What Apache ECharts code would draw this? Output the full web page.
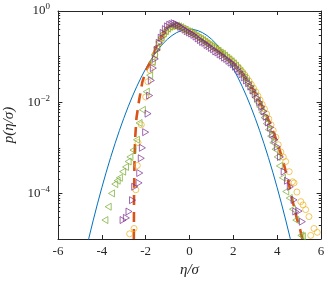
<!DOCTYPE html>
<html><head><meta charset="utf-8">
<script src="https://cdn.jsdelivr.net/npm/echarts@6/dist/echarts.min.js"></script>
<style>html,body{margin:0;padding:0;background:#fff}#c{width:328px;height:286px}</style>
</head><body><div id="c"></div>
<script>
// Gaussian reference curve (blue)
const gaussX = [-4.8,-4.6,-4.4,-4.2,-4.0,-3.8,-3.6,-3.4,-3.2,-3.0,-2.8,-2.6,-2.4,-2.2,-2.0,-1.8,-1.6,-1.4,-1.2,-1.0,-0.8,-0.6,-0.4,-0.2,0,0.2,0.4,0.6,0.8,1.0,1.2,1.4,1.6,1.8,2.0,2.2,2.4,2.6,2.8,3.0,3.2,3.4,3.6,3.8,4.0,4.2,4.4,4.6,4.8];
const gaussY = [3.96e-6,1.01e-5,2.49e-5,5.89e-5,1.34e-4,2.92e-4,6.12e-4,1.23e-3,2.38e-3,4.43e-3,7.92e-3,1.36e-2,2.24e-2,3.55e-2,5.40e-2,7.90e-2,0.1109,0.1497,0.1942,0.2420,0.2897,0.3332,0.3683,0.3910,0.3989,0.3910,0.3683,0.3332,0.2897,0.2420,0.1942,0.1497,0.1109,7.90e-2,5.40e-2,3.55e-2,2.24e-2,1.36e-2,7.92e-3,4.43e-3,2.38e-3,1.23e-3,6.12e-4,2.92e-4,1.34e-4,5.89e-5,2.49e-5,1.01e-5,3.96e-6];

// dashed curve (orange-red)
const dashX = [-2.54,-2.53,-2.51,-2.48,-2.42,-2.3,-2.15,-1.98,-1.82,-1.65,-1.5,-1.3,-1.1,-0.9,-0.7,-0.5,-0.3,-0.1,0.1,0.3,0.5,0.7,0.9,1.1,1.3,1.5,1.7,1.9,2.1,2.3,2.5,2.7,2.9,3.1,3.3,3.5,3.7,3.9,4.1,4.3,4.5,4.7,4.9,5.05,5.15];
const dashY = [1e-5,1e-4,5e-4,1.6e-3,4.5e-3,1.1e-2,2.8e-2,5e-2,7.1e-2,0.11,0.17,0.26,0.36,0.44,0.48,0.47,0.42,0.37,0.33,0.29,0.25,0.21,0.185,0.16,0.135,0.115,0.097,0.08,0.065,0.05,0.037,0.027,0.019,0.013,8.5e-3,5.3e-3,3.2e-3,1.8e-3,9.5e-4,4.5e-4,1.9e-4,7e-5,2.8e-5,1.6e-5,1e-5];

// circles (yellow)
const circX = [-2.73,-2.53,-2.45,-2.38,-2.35,-2.2,-2.0,-1.9,-1.8,-1.68,-1.58,-1.48,-1.38,-1.28,-1.18,-1.08,-0.98,-0.88,-0.78,-0.68,-0.58,-0.48,-0.38,-0.28,-0.18,-0.08,0.02,0.12,0.22,0.32,0.42,0.52,0.62,0.72,0.82,0.92,1.02,1.12,1.22,1.32,1.42,1.52,1.62,1.72,1.82,1.92,2.02,2.12,2.22,2.32,2.42,2.52,2.62,2.72,2.82,2.92,3.02,3.12,3.22,3.32,3.42,3.52,3.62,3.72,3.82,3.94,4.05,4.17,4.28,4.39,4.55,4.7,4.77,4.9,5.08,5.18,5.3,5.45,5.68,5.83,5.53];
const circY = [1.3e-5,1.7e-5,1.2e-4,4.1e-4,1.3e-3,3.2e-3,1.3e-2,2.8e-2,5.0e-2,7.6e-2,0.11,0.15,0.2,0.25,0.3,0.355,0.4,0.44,0.46,0.47,0.47,0.46,0.44,0.42,0.39,0.37,0.35,0.33,0.31,0.29,0.27,0.25,0.235,0.22,0.2,0.186,0.174,0.158,0.148,0.138,0.126,0.117,0.107,0.098,0.089,0.081,0.074,0.066,0.059,0.052,0.046,0.04,0.034,0.029,0.0245,0.0204,0.017,0.0138,0.0112,8.9e-3,7.1e-3,5.5e-3,4.3e-3,3.2e-3,2.4e-3,1.7e-3,1.17e-3,8.1e-4,6.3e-4,5.0e-4,3.0e-4,1.8e-4,1.7e-4,1.07e-4,6.6e-5,5.6e-5,4.4e-5,3.1e-5,1.7e-5,1.4e-5,1.2e-5];

// left-pointing triangles (green)
const leftX = [-3.86,-3.71,-3.56,-3.41,-3.3,-3.2,-3.05,-2.92,-2.8,-2.72,-2.58,-2.42,-2.3,-2.15,-1.97,-1.82,-1.7,-1.6,-1.5,-1.4,-1.3,-1.2,-1.1,-1.0,-0.9,-0.8,-0.7,-0.6,-0.5,-0.4,-0.3,-0.2,-0.1,0.0,0.1,0.2,0.3,0.4,0.5,0.6,0.7,0.8,0.9,1.0,1.1,1.2,1.3,1.4,1.5,1.6,1.7,1.8,1.9,2.0,2.1,2.2,2.3,2.4,2.5,2.6,2.7,2.8,2.9,3.0,3.1,3.2,3.3,3.4,3.5,3.6,3.7,3.8,3.9,4.0,4.1,4.24,4.39,4.55,4.7,4.85,5.08,5.15];
const leftY = [2.6e-5,5.1e-5,1.0e-4,1.6e-4,1.9e-4,2.2e-4,3.0e-4,3.8e-4,5.0e-4,6.3e-4,8.9e-4,1.5e-3,3.5e-3,6.8e-3,1.7e-2,3.9e-2,7.6e-2,0.11,0.16,0.21,0.26,0.32,0.36,0.41,0.45,0.47,0.48,0.48,0.46,0.44,0.41,0.39,0.36,0.35,0.32,0.30,0.28,0.26,0.245,0.23,0.21,0.195,0.18,0.17,0.158,0.145,0.135,0.123,0.115,0.105,0.095,0.087,0.079,0.071,0.063,0.055,0.048,0.041,0.035,0.029,0.024,0.0195,0.016,0.0126,0.01,7.9e-3,6.0e-3,4.6e-3,3.4e-3,2.5e-3,1.8e-3,1.3e-3,9.3e-4,6.3e-4,4.0e-4,2.2e-4,1.1e-4,7.9e-5,4.5e-5,2.6e-5,1.2e-5,1.15e-5];

// right-pointing triangles (purple)
const rightX = [-3.03,-2.88,-2.76,-2.6,-2.5,-2.3,-2.27,-2.2,-2.15,-2.0,-1.89,-1.82,-1.74,-1.65,-1.56,-1.47,-1.38,-1.29,-1.2,-1.1,-1.0,-0.9,-0.8,-0.7,-0.6,-0.5,-0.4,-0.3,-0.2,-0.1,0.0,0.1,0.2,0.3,0.4,0.5,0.6,0.7,0.8,0.9,1.0,1.1,1.2,1.3,1.4,1.5,1.6,1.7,1.8,1.9,2.0,2.1,2.2,2.3,2.4,2.5,2.6,2.7,2.8,2.9,3.0,3.1,3.2,3.3,3.4,3.5,3.6,3.7,3.8,3.9,4.01,4.15,4.32,4.47,4.6,4.77,4.85,5.0,5.15];
const rightY = [2.6e-5,2.9e-5,4.0e-5,7.1e-5,1.4e-4,1.7e-4,2.8e-4,5.9e-4,1.0e-3,2.2e-3,5.6e-3,1.4e-2,3.0e-2,5.6e-2,8.9e-2,0.14,0.2,0.26,0.33,0.4,0.46,0.5,0.52,0.54,0.52,0.49,0.45,0.42,0.39,0.36,0.34,0.32,0.30,0.275,0.25,0.23,0.21,0.2,0.18,0.17,0.155,0.145,0.13,0.123,0.112,0.105,0.095,0.089,0.081,0.074,0.068,0.06,0.054,0.047,0.041,0.035,0.03,0.026,0.022,0.018,0.015,0.0123,0.01,7.9e-3,6.3e-3,4.8e-3,3.6e-3,2.8e-3,2.0e-3,1.5e-3,1.05e-3,6.3e-4,3.0e-4,1.9e-4,1.4e-4,7.2e-5,4.0e-5,4.1e-5,2.4e-5];

// axis ticks
const xTicks = [-6,-4,-2,0,2,4,6];
const yMajorTicks = [1, 1e-2, 1e-4];
const yDecades = [1e-5, 1e-4, 1e-3, 1e-2, 1e-1];
const yMinorMult = [1, 2, 3, 4, 5, 6, 7, 8, 9];

function pairs(xs, ys){ return xs.map((x,i)=>[x, ys[i]]); }

const AX = '#262626';
const FONT = 'Liberation Serif';
const X0 = xTicks[0], X1 = xTicks[xTicks.length-1];

// tick marks of the log axes drawn through the chart's own scales
const tickLines = [];
function addTick(v, len){
  tickLines.push([{coord:[X0, v]}, {coord:[X0 + len, v]}]);
  tickLines.push([{coord:[X1, v]}, {coord:[X1 - len, v]}]);
}
yDecades.forEach(d => yMinorMult.forEach(m => {
  const v = d * m;
  const major = yMajorTicks.some(t => Math.abs(t - v) / t < 1e-9);
  if (!major) addTick(v, 0.1);
}));
yMajorTicks.forEach(v => addTick(v, 0.2));

const chart = echarts.init(document.getElementById('c'), null, {renderer:'canvas'});
const hollow = c => ({color:'rgba(0,0,0,0)', borderColor:c, borderWidth:0.9});
chart.setOption({
  animation:false,
  backgroundColor:'#fff',
  grid:{left:58,right:7,top:11,bottom:47,containLabel:false,outerBoundsMode:'none'},
  xAxis:[{
    type:'value', min:X0, max:X1, interval:2,
    axisLine:{onZero:false,lineStyle:{color:AX,width:1}},
    axisTick:{inside:true,length:4,lineStyle:{color:AX}},
    axisLabel:{color:AX,fontFamily:FONT,fontSize:13,margin:6},
    splitLine:{show:false},
    name:'η/σ', nameLocation:'middle', nameGap:24,
    nameTextStyle:{fontStyle:'italic',fontFamily:FONT,fontSize:15,color:AX}
  },{
    type:'value', position:'top', min:X0, max:X1, interval:2,
    axisLine:{onZero:false,lineStyle:{color:AX,width:1}},
    axisTick:{inside:true,length:4,lineStyle:{color:AX}},
    axisLabel:{show:false}, splitLine:{show:false}
  }],
  yAxis:[{
    type:'log', logBase:10, min:1e-5, max:1, position:'left',
    axisLine:{onZero:false,lineStyle:{color:AX,width:1}},
    axisTick:{show:false},
    axisLabel:{color:AX,fontFamily:FONT,fontSize:13,margin:8,
      formatter:function(v){ const e=Math.round(Math.log10(v)); if(e%2!==0) return ''; return '{b|10}{s|'+(e<0?'−'+(-e):e)+'}'; },
      rich:{b:{fontFamily:FONT,fontSize:13,color:AX},s:{fontFamily:FONT,fontSize:9,color:AX,padding:[0,0,8,0]}}},
    splitLine:{show:false},
    name:'p(η/σ)', nameLocation:'middle', nameGap:40, nameRotate:90,
    nameTextStyle:{fontStyle:'italic',fontFamily:FONT,fontSize:15,color:AX}
  },{
    type:'log', logBase:10, min:1e-5, max:1, position:'right',
    axisLine:{onZero:false,lineStyle:{color:AX,width:1}},
    axisTick:{show:false},
    axisLabel:{show:false}, splitLine:{show:false}
  }],
  series:[
    {type:'line', data:pairs(gaussX,gaussY), showSymbol:false, symbol:'none', lineStyle:{color:'#0072BD',width:1}, z:2,
     markLine:{silent:true, symbol:['none','none'], label:{show:false}, lineStyle:{color:AX,width:1,type:'solid'}, emphasis:{disabled:true}, data:tickLines}},
    {type:'line', data:pairs(dashX,dashY), showSymbol:false, symbol:'none', lineStyle:{color:'#D95319',width:2.6,type:[10,7]}, z:3},
    {type:'scatter', data:pairs(circX,circY), symbol:'circle', symbolSize:6, itemStyle:hollow('#EDB120'), z:4},
    {type:'scatter', data:pairs(leftX,leftY), symbol:'path://M10,0 L0,5 L10,10 Z', symbolSize:[6,7], itemStyle:hollow('#77AC30'), z:5},
    {type:'scatter', data:pairs(rightX,rightY), symbol:'path://M0,0 L10,5 L0,10 Z', symbolSize:[6,7], itemStyle:hollow('#7E2F8E'), z:6}
  ]
});
</script></body></html>
